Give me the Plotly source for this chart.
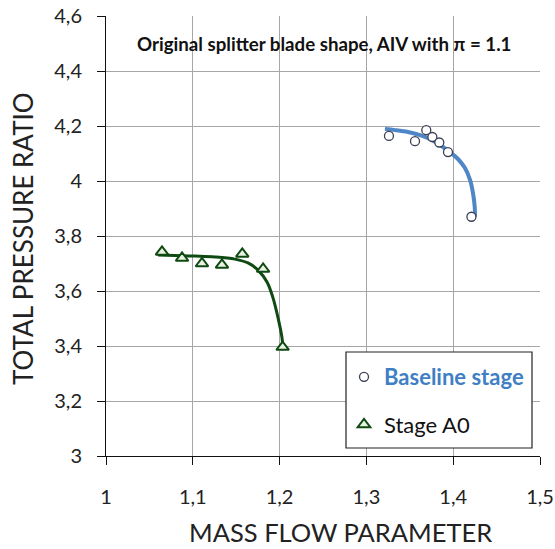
import plotly.graph_objects as go

# measured data points
base_x = [1.326, 1.356, 1.369, 1.376, 1.384, 1.394, 1.421]
base_y = [4.164, 4.145, 4.185, 4.160, 4.140, 4.105, 3.870]
a0_x = [1.0645, 1.0876, 1.1106, 1.1336, 1.157, 1.181, 1.2035]
a0_y = [3.742, 3.720, 3.700, 3.695, 3.735, 3.680, 3.396]

# trend curves
base_fit_x = [1.3214, 1.333, 1.348, 1.3618, 1.3733, 1.3848, 1.3963, 1.4055, 1.4136, 1.4194, 1.4228, 1.4248, 1.4251]
base_fit_y = [4.189, 4.185, 4.178, 4.167, 4.153, 4.131, 4.105, 4.080, 4.047, 4.004, 3.956, 3.905, 3.870]
a0_fit_x = [1.0599, 1.0795, 1.1025, 1.1256, 1.1486, 1.1636, 1.1751, 1.1855, 1.1924, 1.1982, 1.2028, 1.2039]
a0_fit_y = [3.731, 3.729, 3.727, 3.724, 3.716, 3.702, 3.676, 3.633, 3.575, 3.502, 3.429, 3.385]

x_ticks = [1, 1.1, 1.2, 1.3, 1.4, 1.5]
x_labels = ["1", "1,1", "1,2", "1,3", "1,4", "1,5"]
y_ticks = [3, 3.2, 3.4, 3.6, 3.8, 4, 4.2, 4.4, 4.6]
y_labels = ["3", "3,2", "3,4", "3,6", "3,8", "4", "4,2", "4,4", "4,6"]

FONT = "Lato"
BLUE = "#4f86c6"
GREEN = "#0f4a12"

fig = go.Figure()
fig.add_trace(go.Scatter(x=base_fit_x, y=base_fit_y, mode="lines", line=dict(color=BLUE, width=4, shape="spline"),
                         showlegend=False, hoverinfo="skip"))
fig.add_trace(go.Scatter(x=a0_fit_x, y=a0_fit_y, mode="lines", line=dict(color=GREEN, width=3, shape="spline"),
                         showlegend=False, hoverinfo="skip"))
fig.add_trace(go.Scatter(x=base_x, y=base_y, mode="markers",
                         marker=dict(symbol="circle", size=9, color="white", line=dict(color="#3a3f55", width=1.3)),
                         name="<b><span style='color:#3f7fc4'>Baseline stage</span></b>", legendgroup="a"))
fig.add_trace(go.Scatter(x=a0_x, y=a0_y, mode="markers",
                         marker=dict(symbol="triangle-up", size=11, color="#e8f3e4", line=dict(color=GREEN, width=2)),
                         name="Stage A0", legendgroup="b"))

L, R, T, B = 106, 15, 16, 93
W, H = 555, 549
pw, ph = W - L - R, H - T - B

def px2paper(x, y):
    return (x - L) / pw, (H - B - y) / ph

x0, y0 = px2paper(346, 352)
x1, y1 = px2paper(532, 448)
fig.add_shape(type="rect", xref="paper", yref="paper", x0=x0, y0=y1, x1=x1, y1=y0,
              line=dict(color="#222222", width=1.2), fillcolor="white", layer="above")

lx, ly = px2paper(344, 356)
fig.update_layout(
    width=W, height=H,
    margin=dict(l=L, r=R, t=T, b=B, autoexpand=False),
    paper_bgcolor="white", plot_bgcolor="white",
    font=dict(family=FONT, color="#222222"),
    legend=dict(x=lx, y=ly, xanchor="left", yanchor="top", bgcolor="rgba(0,0,0,0)",
                font=dict(family=FONT, size=22, color="#111111"), tracegroupgap=16,
                traceorder="grouped", itemwidth=30),
    xaxis=dict(range=[1, 1.5], tickvals=x_ticks, ticktext=x_labels, showgrid=True, gridcolor="#a6a6a6", gridwidth=1,
               showline=True, linecolor="#111111", linewidth=1, ticks="outside", ticklen=8, tickcolor="#111111",
               tickfont=dict(family=FONT, size=20, color="#222222"), ticklabelstandoff=15, zeroline=False,
               automargin=False),
    yaxis=dict(range=[3, 4.6], tickvals=y_ticks, ticktext=y_labels, showgrid=True, gridcolor="#a6a6a6", gridwidth=1,
               showline=True, linecolor="#111111", linewidth=1, ticks="outside", ticklen=8, tickcolor="#111111",
               tickfont=dict(family=FONT, size=20, color="#222222"), ticklabelstandoff=11, zeroline=False,
               automargin=False),
    annotations=[
        dict(text="<b>Original splitter blade shape, AIV with π = 1.1</b>", xref="paper", yref="paper",
             x=(324 - L) / pw, y=px2paper(0, 44)[1], xanchor="center", yanchor="middle", showarrow=False,
             font=dict(family=FONT, size=18.7, color="#111111")),
        dict(text="MASS FLOW PARAMETER", xref="paper", yref="paper", x=(340 - L) / pw, y=px2paper(0, 532)[1],
             xanchor="center", yanchor="middle", showarrow=False, font=dict(family=FONT, size=25.5, color="#222222")),
        dict(text="TOTAL PRESSURE RATIO", xref="paper", yref="paper", x=(23 - L) / pw, y=px2paper(0, 239)[1],
             xanchor="center", yanchor="middle", showarrow=False, textangle=-90,
             font=dict(family=FONT, size=26, color="#222222")),
    ],
)

fig.write_html("out.html")
